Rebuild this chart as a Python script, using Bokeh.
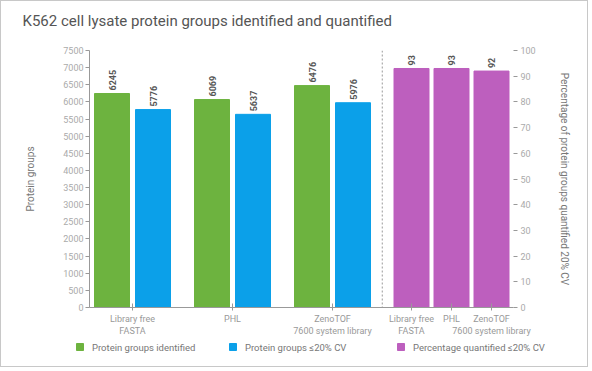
import math
from bokeh.plotting import figure
from bokeh.layouts import column
from bokeh.models import Range1d, LinearAxis, FixedTicker, Span
from bokeh.core.properties import value
from bokeh.embed import file_html
from bokeh.resources import INLINE

# ---- data ----
categories = ["Library free\nFASTA", "PHL", "ZenoTOF\n7600 system library"]
protein_groups_identified = [6245, 6069, 6476]
protein_groups_cv20 = [5776, 5637, 5976]
pct_quantified_cv20 = [93, 93, 92]
left_ticks = list(range(0, 7501, 500))
right_ticks = list(range(0, 101, 10))

title_text = "K562 cell lysate protein groups identified and quantified"
left_label = "Protein groups"
right_label = "Percentage of protein groups quantified 20% CV"
legend_labels = ["Protein groups identified", "Protein groups \u226420% CV",
                 "Percentage quantified \u226420% CV"]

# ---- style ----
GREEN = "#6db33f"
BLUE = "#0ba0e9"
PURPLE = "#bd5fbe"
legend_colors = [GREEN, BLUE, PURPLE]
FONT = "Roboto"
TICK_COLOR = "#aaaaaa"
LINE_COLOR = "#999999"

# ---- layout (x in pixel-like units across the frame) ----
group_first, group_step = 43, 100
pct_first, pct_step = 322, 40
bar_w, bar_off = 35, 20.5

grp_x = [group_first + group_step * i for i in range(len(categories))]
green_x = [g - bar_off for g in grp_x]
blue_x = [g + bar_off for g in grp_x]
pct_x = [pct_first + pct_step * i for i in range(len(categories))]
sep_x = ((blue_x[-1] + bar_w / 2) + (pct_x[0] - bar_w / 2)) / 2

W, H_HEAD, H_MAIN, H_LEG = 586, 36, 301, 28


def strip(height):
    f = figure(width=W, height=height, output_backend="svg",
               toolbar_location=None, x_range=Range1d(0, W),
               y_range=Range1d(0, height), min_border=0,
               x_axis_type=None, y_axis_type=None)
    f.outline_line_color = None
    f.xgrid.grid_line_color = None
    f.ygrid.grid_line_color = None
    f.frame_align = False
    return f


# ---- header with title ----
hf = strip(H_HEAD)
hf.text(x=[21], y=[H_HEAD - 19], text=[title_text], text_align="left",
        text_baseline="middle", text_font_size="15px",
        text_color="#555555", text_font=value(FONT))

# ---- main chart ----
p = figure(width=W, height=H_MAIN, output_backend="svg",
           toolbar_location=None,
           x_range=Range1d(0, 424), y_range=Range1d(0, 7500),
           min_border_left=88, min_border_right=74, min_border_top=13,
           min_border_bottom=31)
p.frame_align = False
p.extra_y_ranges = {"pct": Range1d(0, 100)}
p.outline_line_color = None
p.xgrid.grid_line_color = None
p.ygrid.grid_line_color = None

p.vbar(x=green_x, top=protein_groups_identified, width=bar_w, color=GREEN)
p.vbar(x=blue_x, top=protein_groups_cv20, width=bar_w, color=BLUE)
p.vbar(x=pct_x, top=pct_quantified_cv20, width=bar_w, color=PURPLE,
       y_range_name="pct")

lbl_kw = dict(angle=math.pi / 2, text_align="left", text_baseline="middle",
              y_offset=-3, text_font_size="9px", text_font_style="bold",
              text_color="#555555", text_font=value(FONT))
p.text(x=green_x, y=protein_groups_identified,
       text=[str(v) for v in protein_groups_identified], **lbl_kw)
p.text(x=blue_x, y=protein_groups_cv20,
       text=[str(v) for v in protein_groups_cv20], **lbl_kw)
p.text(x=pct_x, y=pct_quantified_cv20,
       text=[str(v) for v in pct_quantified_cv20], y_range_name="pct",
       **lbl_kw)

p.add_layout(Span(location=sep_x, dimension="height", line_dash="2 2",
                  line_color=LINE_COLOR, line_width=1))

# left axis
ya = p.yaxis[0]
ya.ticker = FixedTicker(ticks=left_ticks)
ya.axis_label = left_label
ya.axis_label_text_font = FONT
ya.axis_label_text_font_size = "10px"
ya.axis_label_text_font_style = "normal"
ya.axis_label_text_color = "#777777"
ya.axis_label_standoff = 24
ya.major_label_text_font = FONT
ya.major_label_text_font_size = "9px"
ya.major_label_text_color = TICK_COLOR
ya.major_label_standoff = 2
ya.axis_line_color = LINE_COLOR
ya.major_tick_line_color = LINE_COLOR
ya.major_tick_out = 4
ya.major_tick_in = 0
ya.minor_tick_line_color = None

# right axis
ra = LinearAxis(y_range_name="pct", ticker=FixedTicker(ticks=right_ticks))
ra.axis_label = right_label
ra.axis_label_text_font = FONT
ra.axis_label_text_font_size = "10px"
ra.axis_label_text_font_style = "normal"
ra.axis_label_text_color = "#777777"
ra.axis_label_standoff = 20
ra.major_label_text_font = FONT
ra.major_label_text_font_size = "9px"
ra.major_label_text_color = TICK_COLOR
ra.major_label_standoff = 3
ra.axis_line_color = None
ra.major_tick_line_color = LINE_COLOR
ra.major_tick_out = 4
ra.major_tick_in = 0
ra.minor_tick_line_color = None
p.add_layout(ra, "right")

# bottom axis
xa = p.xaxis[0]
xa.ticker = FixedTicker(ticks=grp_x + pct_x)
xa.major_label_overrides = {int(t): c for t, c in zip(grp_x + pct_x,
                                                      categories + categories)}
xa.major_label_text_font = FONT
xa.major_label_text_font_size = "9px"
xa.major_label_text_color = "#999999"
xa.major_label_standoff = 3
xa.axis_line_color = LINE_COLOR
xa.major_tick_line_color = LINE_COLOR
xa.major_tick_in = 4
xa.major_tick_out = 3
xa.minor_tick_line_color = None

# ---- legend strip ----
leg_sq = 7
leg_first, leg_steps = 78.5, [0, 153, 321]
leg_x = [leg_first + s for s in leg_steps]
leg_y = H_LEG - 8.5
lf = strip(H_LEG)
lf.rect(x=leg_x, y=[leg_y] * 3, width=leg_sq, height=leg_sq,
        color=legend_colors)
lf.text(x=[x + 12 for x in leg_x], y=[leg_y] * 3, text=legend_labels,
        text_align="left", text_baseline="middle", text_font_size="9.5px",
        text_color="#777777", text_font=value(FONT))

layout = column(hf, p, lf, spacing=0)
layout.styles = {"border": "1px solid #c8c8c8"}

open("out.html", "w").write(file_html(layout, INLINE))
